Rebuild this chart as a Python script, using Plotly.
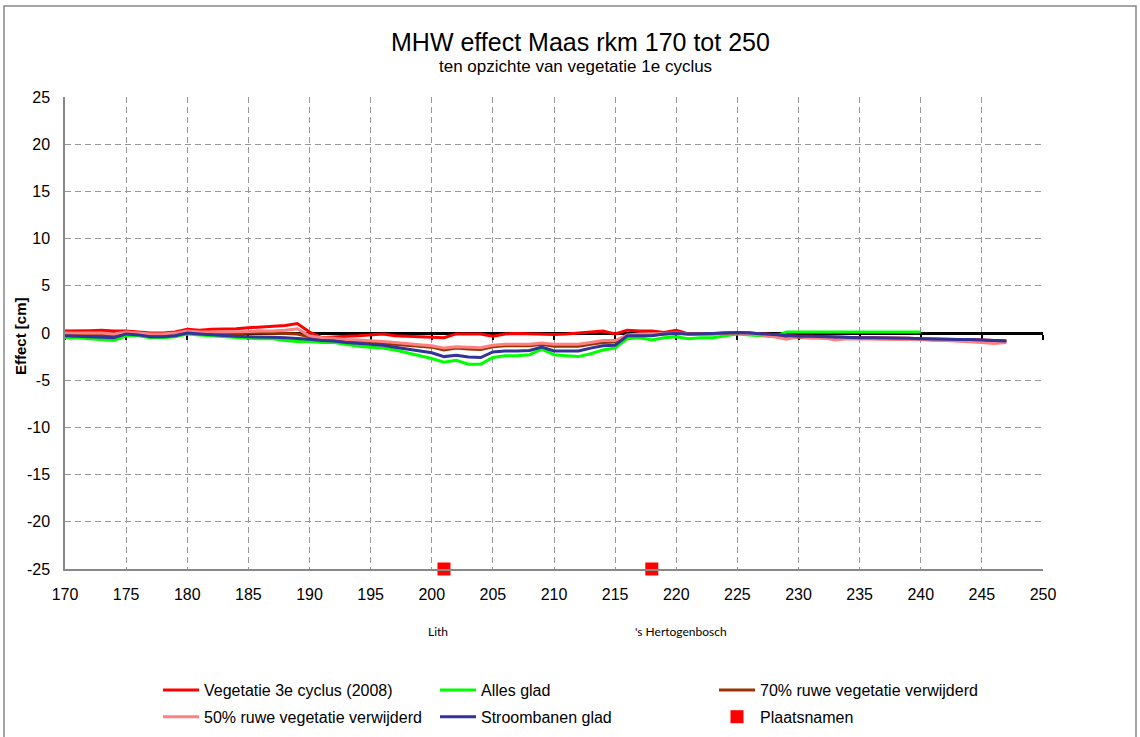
import plotly.graph_objects as go

km = list(range(170, 248))

veg_3e_cyclus = [0.2, 0.2, 0.25, 0.3, 0.2, 0.2, 0.1, 0.0, 0.0, 0.1,
                 0.4, 0.3, 0.4, 0.4, 0.45, 0.55, 0.65, 0.7, 0.8, 1.0,
                 0.1, -0.5, -0.4, -0.35, -0.3, -0.2, -0.1, -0.3, -0.35, -0.4,
                 -0.45, -0.5, -0.1, -0.1, -0.1, -0.35, -0.1, -0.05, -0.1, -0.1,
                 -0.15, -0.1, 0.0, 0.1, 0.2, -0.1, 0.3, 0.2, 0.2, 0.05,
                 0.3, -0.1, -0.1, -0.05, 0.0, 0.05, 0.0, -0.1, -0.2, -0.3,
                 -0.35, -0.35, -0.4, -0.4, -0.45, -0.5, -0.5, -0.5, -0.55, -0.55,
                 -0.6, -0.65, -0.65, -0.7, -0.7, -0.75, -0.8, -0.85]

alles_glad = [-0.5, -0.5, -0.6, -0.7, -0.8, -0.3, -0.3, -0.5, -0.5, -0.4,
              -0.1, -0.2, -0.3, -0.4, -0.5, -0.55, -0.6, -0.6, -0.8, -0.9,
              -0.9, -1.0, -1.0, -1.2, -1.4, -1.5, -1.6, -1.8, -2.1, -2.4,
              -2.7, -3.1, -2.9, -3.3, -3.3, -2.6, -2.4, -2.4, -2.3, -1.7,
              -2.3, -2.4, -2.5, -2.2, -1.8, -1.6, -0.6, -0.5, -0.75, -0.5,
              -0.4, -0.6, -0.5, -0.5, -0.3, -0.1, -0.2, -0.3, -0.4, 0.1,
              0.1, 0.1, 0.1, 0.1, 0.1, 0.1, 0.1, 0.1, 0.1, 0.1,
              0.1, None, None, None, None, None, None, None]

ruw_70 = [-0.1, -0.1, -0.2, -0.2, -0.3, 0.0, -0.1, -0.2, -0.2, -0.1,
          0.1, 0.0, 0.0, -0.1, -0.1, 0.0, 0.0, 0.0, -0.05, -0.1,
          -0.4, -0.6, -0.65, -0.8, -0.9, -1.0, -1.05, -1.15, -1.3, -1.4,
          -1.5, -1.8, -1.6, -1.7, -1.75, -1.45, -1.35, -1.35, -1.35, -1.2,
          -1.4, -1.4, -1.4, -1.2, -1.0, -0.95, -0.2, -0.2, -0.2, -0.1,
          0.0, -0.1, -0.1, -0.1, 0.0, 0.0, 0.0, -0.15, -0.3, -0.45,
          -0.45, -0.5, -0.5, -0.55, -0.55, -0.55, -0.6, -0.6, -0.6, -0.65,
          -0.65, -0.7, -0.7, -0.75, -0.75, -0.8, -0.85, -0.9]

ruw_50 = [0.0, 0.0, -0.05, 0.0, -0.1, 0.1, 0.0, -0.1, -0.1, 0.0,
          0.2, 0.1, 0.1, 0.1, 0.1, 0.15, 0.2, 0.2, 0.3, 0.45,
          -0.3, -0.5, -0.55, -0.7, -0.75, -0.8, -0.9, -1.0, -1.15, -1.25,
          -1.35, -1.6, -1.45, -1.5, -1.55, -1.3, -1.2, -1.2, -1.2, -1.05,
          -1.2, -1.2, -1.2, -1.0, -0.8, -0.8, -0.2, -0.1, -0.1, -0.05,
          0.0, -0.1, -0.1, -0.1, 0.0, 0.0, -0.1, -0.2, -0.4, -0.65,
          -0.4, -0.55, -0.5, -0.75, -0.6, -0.6, -0.65, -0.65, -0.7, -0.65,
          -0.7, -0.8, -0.8, -0.85, -0.9, -1.0, -1.1, -1.0]

stroombanen_glad = [-0.3, -0.35, -0.4, -0.45, -0.5, -0.1, -0.2, -0.4, -0.4, -0.3,
                    0.0, -0.1, -0.2, -0.3, -0.35, -0.4, -0.4, -0.45, -0.5, -0.55,
                    -0.65, -0.8, -0.85, -1.0, -1.1, -1.15, -1.3, -1.5, -1.7, -1.9,
                    -2.1, -2.5, -2.35, -2.55, -2.6, -2.0, -1.9, -1.9, -1.85, -1.5,
                    -1.9, -1.9, -1.9, -1.6, -1.35, -1.3, -0.3, -0.3, -0.3, -0.1,
                    -0.05, -0.1, -0.1, -0.05, 0.0, 0.05, 0.0, -0.1, -0.2, -0.3,
                    -0.35, -0.35, -0.4, -0.4, -0.45, -0.5, -0.5, -0.5, -0.55, -0.55,
                    -0.6, -0.65, -0.65, -0.7, -0.7, -0.75, -0.8, -0.85]

place_names = ["Lith", "'s Hertogenbosch"]
place_km = [201, 218]
place_y = [-25, -25]
place_label_shift = [-6, 29]

x_ticks = list(range(170, 251, 5))
x_tick_labels = [str(v) for v in x_ticks]
y_ticks = list(range(-25, 26, 5))
y_tick_labels = [str(v) for v in y_ticks]

FONT = "Liberation Sans, Arial, sans-serif"
W, H = 1140, 737
L, R, T, B = 65, 97, 97, 168
PW, PH = W - L - R, H - T - B


def px_x(p):
    return (p - L) / PW


def px_y(p):
    return 1 - (p - T) / PH


fig = go.Figure()
series = [
    ("Vegetatie 3e cyclus (2008)", veg_3e_cyclus, "#FF0000", "legend"),
    ("Alles glad", alles_glad, "#00FF00", "legend2"),
    ("70% ruwe vegetatie verwijderd", ruw_70, "#993300", "legend3"),
    ("50% ruwe vegetatie verwijderd", ruw_50, "#FF8080", "legend"),
    ("Stroombanen glad", stroombanen_glad, "#333399", "legend2"),
]
for name, vals, col, lg in series:
    fig.add_trace(go.Scatter(x=km, y=vals, mode="lines", name=name,
                             line=dict(color=col, width=3),
                             legend=lg, legendgroup=name))

fig.add_trace(go.Scatter(x=place_km, y=place_y, mode="markers", name="Plaatsnamen",
                         marker=dict(symbol="square", size=13, color="#FF0000"),
                         xaxis="x2", cliponaxis=False, legend="legend3",
                         legendgroup="Plaatsnamen"))

for name, k, sh in zip(place_names, place_km, place_label_shift):
    fig.add_annotation(x=k, y=-25, xref="x", yref="y", text=name, showarrow=False,
                       xanchor="center", yanchor="middle",
                       xshift=sh, yshift=-62,
                       font=dict(family="Lato, sans-serif", size=12, color="black"))

fig.add_annotation(x=px_x(580), y=px_y(42), xref="paper", yref="paper",
                   xanchor="center", yanchor="middle",
                   text="MHW effect Maas rkm 170 tot 250", showarrow=False,
                   font=dict(family=FONT, size=25, color="black"))
fig.add_annotation(x=px_x(575), y=px_y(66), xref="paper", yref="paper",
                   xanchor="center", yanchor="middle",
                   text="ten opzichte van vegetatie 1e cyclus", showarrow=False,
                   font=dict(family=FONT, size=17, color="black"))
fig.add_annotation(x=px_x(20), y=px_y(336), xref="paper", yref="paper",
                   xanchor="center", yanchor="middle",
                   text="<b>Effect [cm]</b>", showarrow=False, textangle=-90,
                   font=dict(family=FONT, size=15, color="black"))

# outer frame
fig.add_shape(type="rect", xref="paper", yref="paper",
              x0=px_x(4), x1=px_x(1136), y0=px_y(745), y1=px_y(6),
              line=dict(color="#888888", width=1.5), fillcolor="rgba(0,0,0,0)")

legend_common = dict(orientation="v", xanchor="left", yanchor="top",
                     font=dict(family=FONT, size=16, color="black"),
                     bgcolor="rgba(0,0,0,0)", tracegroupgap=3, itemwidth=36)

fig.update_layout(
    width=W, height=H,
    margin=dict(l=L, r=R, t=T, b=B, autoexpand=False),
    paper_bgcolor="white", plot_bgcolor="white",
    showlegend=True,
    legend=dict(x=px_x(158), y=px_y(673), **legend_common),
    legend2=dict(x=px_x(435), y=px_y(673), **legend_common),
    legend3=dict(x=px_x(714), y=px_y(673), **legend_common),
    xaxis=dict(range=[170, 250], tickvals=x_ticks, ticktext=x_tick_labels,
               showgrid=True, gridcolor="#999999",
               griddash="6px,4px", gridwidth=1, showline=True, linecolor="#888888",
               linewidth=1.5, zeroline=False, ticks="", ticklabelstandoff=10,
               tickfont=dict(family=FONT, size=16, color="black")),
    xaxis2=dict(range=[170, 250], overlaying="x", anchor="free", position=0.5,
                side="bottom", tickvals=x_ticks, showgrid=False, showline=True,
                linecolor="black", linewidth=2.5, ticks="outside", ticklen=5,
                tickwidth=2, tickcolor="black", showticklabels=False, zeroline=False,
                layer="below traces"),
    yaxis=dict(range=[-25, 25], tickvals=y_ticks, ticktext=y_tick_labels,
               showgrid=True, gridcolor="#999999",
               griddash="6px,4px", gridwidth=1, showline=True, linecolor="#888888",
               linewidth=1.5, zeroline=False, ticks="", ticklabelstandoff=10,
               tickfont=dict(family=FONT, size=16, color="black")),
)

fig.write_html("out.html", config={"displayModeBar": False},
               post_script="document.body.style.margin='0';document.body.style.overflow='hidden';")
